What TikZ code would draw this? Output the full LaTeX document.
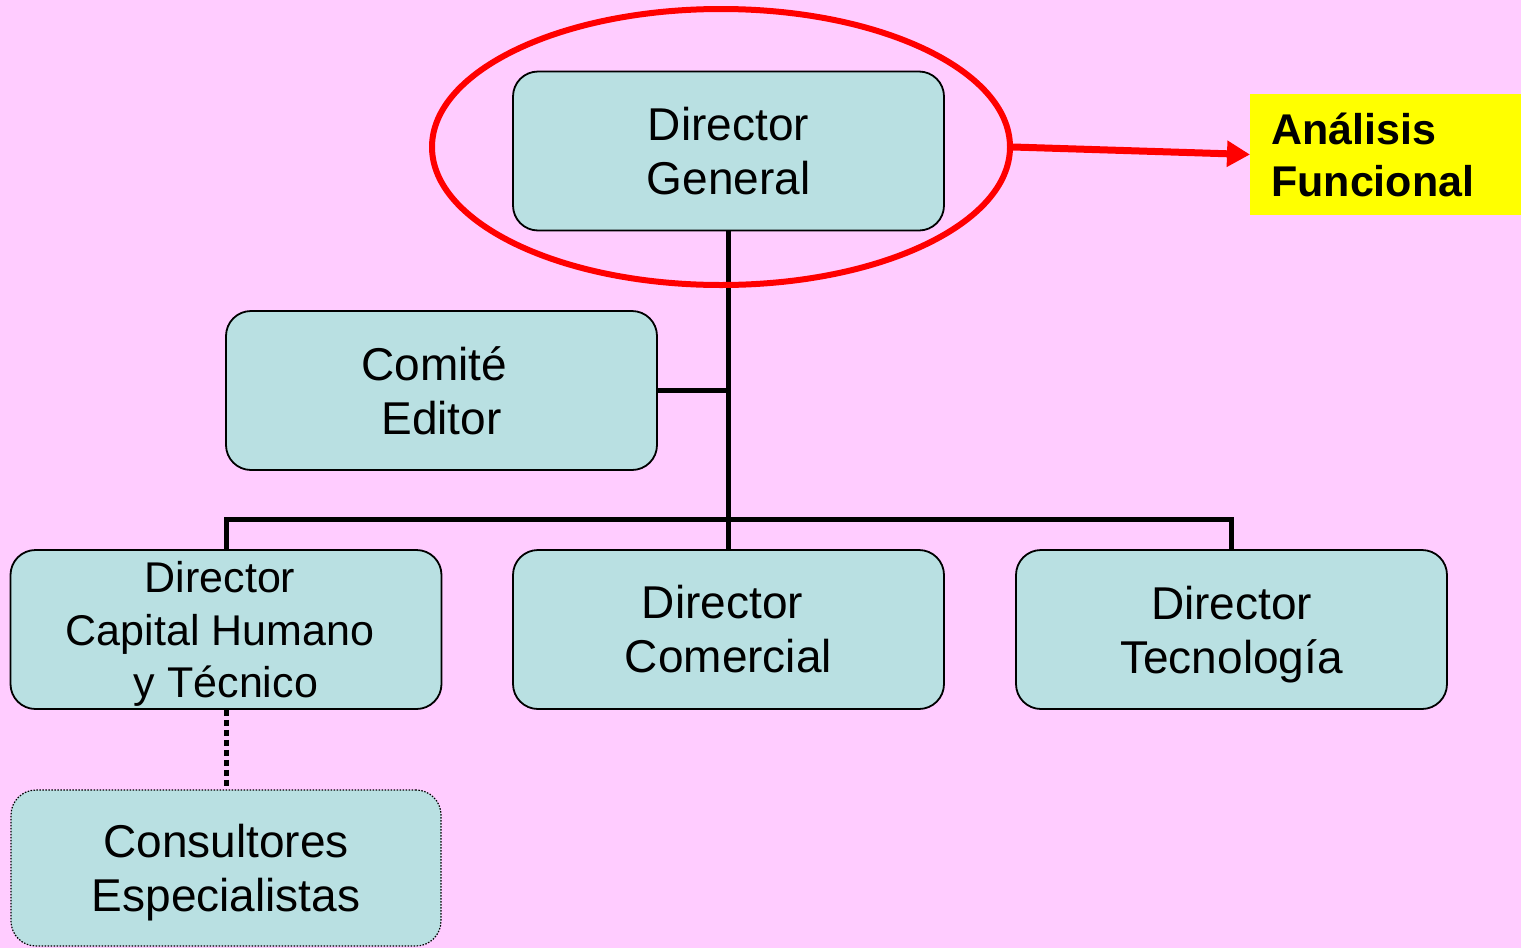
\documentclass[tikz,border=0pt]{standalone}
\usepackage{fontspec}
\setmainfont{Liberation Sans}
\usetikzlibrary{shapes.geometric,arrows.meta}
\definecolor{bgpink}{HTML}{FFCCFF}
\definecolor{boxfill}{HTML}{B9E0E2}
\definecolor{hlred}{HTML}{FF0000}
\definecolor{hlyellow}{HTML}{FFFF00}
\newcommand{\nodesc}[1]{\raisebox{0pt}[\height][0pt]{#1}}
\newcommand{\trail}[1]{\rule{0pt}{0pt}\kern#1pt\rule{0pt}{0pt}}
\tikzset{
  orgbox/.style={draw=black, line width=1.8pt, fill=boxfill, rounded corners=25pt,
    minimum width=431pt, minimum height=159pt, inner sep=0pt, align=center,
    font=\fontsize{46}{54}\selectfont},
  dotbox/.style={orgbox, line width=1.2pt, dash pattern=on 1.5pt off 1.5pt},
  link/.style={line width=5pt, draw=black},
  dotlink/.style={line width=5pt, draw=black, dash pattern=on 6pt off 4pt},
  focusring/.style={ellipse, draw=hlred, line width=6pt, inner sep=0pt},
  tag/.style={fill=hlyellow, text width=230pt, inner xsep=21pt, align=left,
    minimum height=121pt, font=\fontsize{43}{52}\selectfont\bfseries},
  hlarrow/.style={draw=hlred, line width=7pt, -{Triangle[length=23pt,width=25pt]}}
}
\begin{document}
\begin{tikzpicture}[x=1pt,y=-1pt]
\fill[bgpink] (0,0) rectangle (1521,948);
\useasboundingbox (0,0) rectangle (1521,948);
\node[orgbox] (dg) at (728.5,151) {Director\\General};
\node[orgbox] (ce) at (441.5,390.5) {Comité\trail{14}\\Editor};
\node[orgbox, font=\fontsize{43}{52.5}\selectfont] (chb) at (226,629.5) {Director\trail{12}\\Capital Humano\trail{12}\\\nodesc{y Técnico}};
\node[orgbox] (com) at (728.5,629.5) {Director\trail{12}\\Comercial};
\node[orgbox] (tec) at (1231.5,629.5) {Director\\\nodesc{Tecnología}};
\node[dotbox, minimum width=430pt, minimum height=156pt] (cons) at (226,868) {Consultores\\\nodesc{Especialistas}};
\coordinate (bar) at (0,519);
\draw[link] (dg.south) -- (com.north);
\draw[link] (ce.east) -- (ce.east -| dg.south);
\draw[link] (chb.north) -- (chb.north |- bar) -- (tec.north |- bar) -- (tec.north);
\draw[dotlink] (chb.south) -- (cons.north);
\node[focusring, minimum width=578pt, minimum height=276pt] (ring) at (721,147) {};
\node[tag, anchor=west] (af) at (1250,154.5) {Análisis\\Funcional};
\draw[hlarrow] (ring.east) -- (af.west);
\end{tikzpicture}
\end{document}
